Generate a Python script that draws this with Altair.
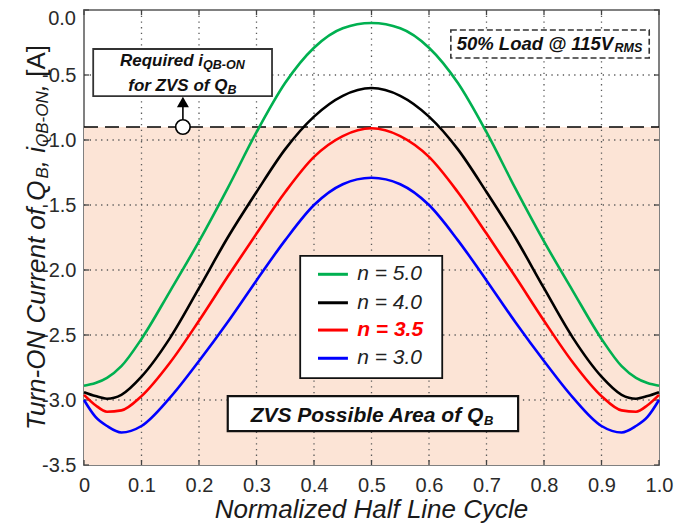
import altair as alt
import pandas as pd

# ---------------- data ----------------
x_vals = [0, 0.02, 0.04, 0.065, 0.1, 0.15, 0.2, 0.25, 0.3, 0.35, 0.4, 0.45, 0.5,
          0.55, 0.6, 0.65, 0.7, 0.75, 0.8, 0.85, 0.9, 0.935, 0.96, 0.98, 1.0]
green = [-2.89, -2.87, -2.83, -2.74, -2.53, -2.16, -1.78, -1.37, -0.94, -0.56, -0.29, -0.14, -0.10,
         -0.14, -0.29, -0.56, -0.94, -1.37, -1.78, -2.16, -2.53, -2.74, -2.83, -2.87, -2.89]
black = [-2.94, -2.97, -2.99, -2.96, -2.82, -2.52, -2.14, -1.75, -1.40, -1.07, -0.82, -0.66, -0.60,
         -0.66, -0.82, -1.07, -1.40, -1.75, -2.14, -2.52, -2.82, -2.96, -2.99, -2.97, -2.94]
red = [-2.96, -3.04, -3.09, -3.08, -2.97, -2.71, -2.39, -2.05, -1.72, -1.40, -1.13, -0.97, -0.91,
       -0.97, -1.13, -1.40, -1.72, -2.05, -2.39, -2.71, -2.97, -3.08, -3.09, -3.04, -2.96]
blue = [-3.00, -3.13, -3.20, -3.25, -3.20, -2.98, -2.70, -2.40, -2.08, -1.77, -1.50, -1.34, -1.29,
        -1.34, -1.50, -1.77, -2.08, -2.40, -2.70, -2.98, -3.20, -3.25, -3.20, -3.13, -3.00]
series_names = ["n = 5.0", "n = 4.0", "n = 3.5", "n = 3.0"]
series_colors = ["#00B050", "#000000", "#FF0000", "#0000FF"]
x_ticks = [0, 0.1, 0.2, 0.3, 0.4, 0.5, 0.6, 0.7, 0.8, 0.9, 1.0]
y_ticks = [0.0, -0.5, -1.0, -1.5, -2.0, -2.5, -3.0, -3.5]
zvs_threshold = -0.9
y_min, y_max = -3.5, 0.0

# annotation boxes (data coordinates)
box_required = [0.016, 0.327, -0.30, -0.662]
box_legend = [0.376, 0.623, -1.892, -2.831]
box_zvs = [0.250, 0.755, -2.97, -3.24]
box_load = [0.638, 0.983, -0.154, -0.369]
marker_x = 0.172
legend_rows = [-2.033, -2.252, -2.462, -2.679]
legend_line_x = [0.407, 0.459]
legend_text_x = 0.475

W, H = 575, 455
FONT = "Liberation Sans, Arial, sans-serif"
TICKFONT = "Liberation Sans, Arial, sans-serif"

ARIAL_R = {' ': 278, '%': 889, '@': 1015, '.': 278, ',': 278, '-': 333, '=': 584, '[': 278, ']': 278,
           'A': 667, 'B': 667, 'C': 722, 'H': 722, 'L': 556, 'M': 833, 'N': 722, 'O': 778, 'P': 667,
           'Q': 778, 'R': 722, 'S': 667, 'T': 611, 'V': 667, 'Z': 611,
           'a': 556, 'b': 556, 'c': 500, 'd': 556, 'e': 556, 'f': 278, 'i': 222, 'l': 222, 'm': 833,
           'n': 556, 'o': 556, 'q': 556, 'r': 333, 's': 500, 't': 278, 'u': 556, 'y': 500, 'z': 500}
ARIAL_B = {' ': 278, '%': 889, '@': 975, '.': 278, ',': 278, '-': 333, '=': 584,
           'A': 722, 'B': 722, 'C': 722, 'L': 611, 'M': 833, 'N': 722, 'O': 778, 'P': 667, 'Q': 778,
           'R': 722, 'S': 667, 'V': 667, 'Z': 611,
           'a': 556, 'b': 611, 'd': 611, 'e': 556, 'f': 333, 'i': 278, 'l': 278, 'o': 611, 'q': 611,
           'r': 389, 's': 556, 'u': 611, 'y': 556}


def tw(s, size, bold=False):
    t = ARIAL_B if bold else ARIAL_R
    return sum(t.get(c, 556) for c in s) * size / 1000.0


xs = alt.Scale(domain=[0, 1], nice=False, zero=False)
ys = alt.Scale(domain=[y_min, y_max], nice=False, zero=False)


def X(f):
    return alt.X(f, scale=xs)


def Y(f):
    return alt.Y(f, scale=ys)


x_axis = alt.Axis(values=x_ticks, grid=False, ticks=False, domain=False, title=None,
                  labelExpr="datum.value == 0 ? '0' : format(datum.value, '.1f')",
                  labelFont=TICKFONT, labelFontSize=20, labelColor="#2a2a2a", labelPadding=10,
                  labelFlush=False)
y_axis = alt.Axis(values=y_ticks[1:], grid=False, ticks=False, domain=False, title=None,
                  labelExpr="'-' + format(abs(datum.value), '.1f')",
                  labelFont=TICKFONT, labelFontSize=20, labelColor="#2a2a2a", labelPadding=8)

layers = []

# ZVS possible area fill (carries the axes)
zone = pd.DataFrame({"x0": [0], "x1": [1], "y0": [y_min], "y1": [zvs_threshold]})
layers.append(alt.Chart(zone).mark_rect(color="#FCE4D6").encode(
    x=alt.X("x0:Q", scale=xs, axis=x_axis), x2="x1",
    y=alt.Y("y0:Q", scale=ys, axis=y_axis), y2="y1"))

# dotted grid
layers.append(alt.Chart(pd.DataFrame({"x": x_ticks[1:-1]})).mark_rule(
    color="#5a5a5a", strokeWidth=1.3, strokeDash=[1.3, 4.4]).encode(
    x=X("x:Q"), y=alt.value(0), y2=alt.value(H)))
layers.append(alt.Chart(pd.DataFrame({"y": y_ticks[1:-1]})).mark_rule(
    color="#5a5a5a", strokeWidth=1.3, strokeDash=[1.3, 4.4]).encode(
    y=Y("y:Q"), x=alt.value(0), x2=alt.value(W)))

# inward ticks on all four sides
xt = pd.DataFrame({"x": x_ticks})
yt = pd.DataFrame({"y": y_ticks})
for a, b in [(H, H - 5), (0, 5)]:
    layers.append(alt.Chart(xt).mark_rule(color="#444", strokeWidth=1.3).encode(
        x=X("x:Q"), y=alt.value(a), y2=alt.value(b)))
for a, b in [(0, 5), (W, W - 5)]:
    layers.append(alt.Chart(yt).mark_rule(color="#444", strokeWidth=1.3).encode(
        y=Y("y:Q"), x=alt.value(a), x2=alt.value(b)))

# top y label "0.0" (nudged down to stay inside the page)
layers.append(alt.Chart(pd.DataFrame({"y": [y_ticks[0]]})).mark_text(
    text="0.0", align="right", baseline="middle", dx=-8, dy=9, font=TICKFONT, fontSize=20,
    color="#2a2a2a").encode(y=Y("y:Q"), x=alt.value(0)))

# required-current dashed line
layers.append(alt.Chart(pd.DataFrame({"y": [zvs_threshold]})).mark_rule(
    color="black", strokeWidth=1.7, strokeDash=[14, 7]).encode(
    y=Y("y:Q"), x=alt.value(0), x2=alt.value(W)))

# curves
rows = []
for name, vals in zip(series_names, [green, black, red, blue]):
    for x, v in zip(x_vals, vals):
        rows.append({"x": x, "y": v, "series": name})
df = pd.DataFrame(rows)
color_scale = alt.Scale(domain=series_names, range=series_colors)
layers.append(alt.Chart(df).mark_line(strokeWidth=2.6, interpolate="monotone").encode(
    x=X("x:Q"), y=Y("y:Q"),
    color=alt.Color("series:N", scale=color_scale, legend=None)))


def box(b, dash=None, width=2.0, stroke="#222"):
    d = pd.DataFrame({"x0": [b[0]], "x1": [b[1]], "y0": [b[2]], "y1": [b[3]]})
    kw = dict(fill="white", stroke=stroke, strokeWidth=width)
    if dash:
        kw["strokeDash"] = dash
    return alt.Chart(d).mark_rect(**kw).encode(x=X("x0:Q"), x2="x1", y=Y("y0:Q"), y2="y1")


layers.append(box(box_required, width=1.8, stroke="#333"))
layers.append(box(box_load, dash=[6, 3], width=1.6, stroke="#333"))
layers.append(box(box_zvs, width=2.2, stroke="#111"))
layers.append(box(box_legend, width=1.8, stroke="#111"))

# marker circle + arrow
layers.append(alt.Chart(pd.DataFrame({"x": [marker_x], "y0": [-0.842], "y1": [-0.746]})).mark_rule(
    color="black", strokeWidth=1.6).encode(x=X("x:Q"), y=Y("y0:Q"), y2="y1"))
layers.append(alt.Chart(pd.DataFrame({"x": [marker_x], "y": [-0.708]})).mark_point(
    shape="triangle-up", filled=True, color="black", size=144, opacity=1).encode(
    x=X("x:Q"), y=Y("y:Q")))
layers.append(alt.Chart(pd.DataFrame({"x": [marker_x], "y": [zvs_threshold]})).mark_circle(
    size=210, color="white", stroke="black", strokeWidth=1.6, opacity=1).encode(
    x=X("x:Q"), y=Y("y:Q")))


def rich(xc, yv, parts, color="#111"):
    """parts: (text, size, bold, dy). Centered at data x, baseline at data y."""
    total = sum(tw(t, s, b) for t, s, b, _ in parts)
    off = -total / 2.0
    out = []
    d = pd.DataFrame({"x": [xc], "y": [yv]})
    for t, s, b, dy in parts:
        out.append(alt.Chart(d).mark_text(
            text=t, align="left", baseline="alphabetic", dx=off, dy=dy, font=FONT, fontSize=s,
            fontStyle="italic", fontWeight="bold" if b else "normal", color=color).encode(
            x=X("x:Q"), y=Y("y:Q")))
        off += tw(t, s, b)
    return out


layers += rich(0.171, -0.431, [("Required i", 17, True, 0), ("QB-ON", 12.5, True, 3)])
layers += rich(0.171, -0.623, [("for ZVS of Q", 17, True, 0), ("B", 12.5, True, 3)])
layers += rich(0.8096, -0.304, [("50% Load @ 115V", 18.5, True, 0), ("RMS", 12.5, True, 2.5)])
layers += rich(0.501, -3.173, [("ZVS Possible Area of Q", 21, True, 0), ("B", 13, True, 3)])

# manual legend
leg = pd.DataFrame({"series": series_names, "y": legend_rows,
                    "x0": [legend_line_x[0]] * 4, "x1": [legend_line_x[1]] * 4})
layers.append(alt.Chart(leg).mark_rule(strokeWidth=3).encode(
    x=X("x0:Q"), x2="x1", y=Y("y:Q"),
    color=alt.Color("series:N", scale=color_scale, legend=None)))
for name, yv in zip(series_names, legend_rows):
    hl = name == "n = 3.5"
    layers.append(alt.Chart(pd.DataFrame({"x": [legend_text_x], "y": [yv]})).mark_text(
        text=name, align="left", baseline="middle", font=FONT, fontSize=21, fontStyle="italic",
        fontWeight="bold" if hl else "normal", color="#FF0000" if hl else "#222").encode(
        x=X("x:Q"), y=Y("y:Q")))

# axis titles (manual, for subscripts)
one = pd.DataFrame({"a": [0]})
layers.append(alt.Chart(one).mark_text(
    text="Normalized Half Line Cycle", align="center", baseline="alphabetic", font=FONT,
    fontSize=26, fontStyle="italic", color="#1a1a1a").encode(x=alt.value(W / 2), y=alt.value(H + 53)))

ytitle = [("Turn-ON Current of Q", 26, False, "italic"), ("B", 17, True, "italic"),
          (", ", 26, False, "italic"), ("i", 26, False, "italic"), ("QB-ON", 17, True, "italic"),
          (", ", 26, False, "italic"), ("[A]", 26, False, "normal")]
L = sum(tw(t, s) for t, s, _, _ in ytitle)
ycur = H / 2 + L / 2
for t, s, sub, st in ytitle:
    layers.append(alt.Chart(one).mark_text(
        text=t, align="left", baseline="alphabetic", angle=270, font=FONT, fontSize=s,
        fontStyle=st, color="#1a1a1a").encode(
        x=alt.value(-36 if sub else -39), y=alt.value(ycur)))
    ycur -= tw(t, s)

chart = alt.layer(*layers).properties(
    width=W, height=H, autosize="none",
    padding={"left": 76, "top": 2, "right": 15, "bottom": 60},
).configure_view(stroke="#808080", strokeWidth=2)

chart.save("out.html", embed_options={"renderer": "svg", "actions": False})
